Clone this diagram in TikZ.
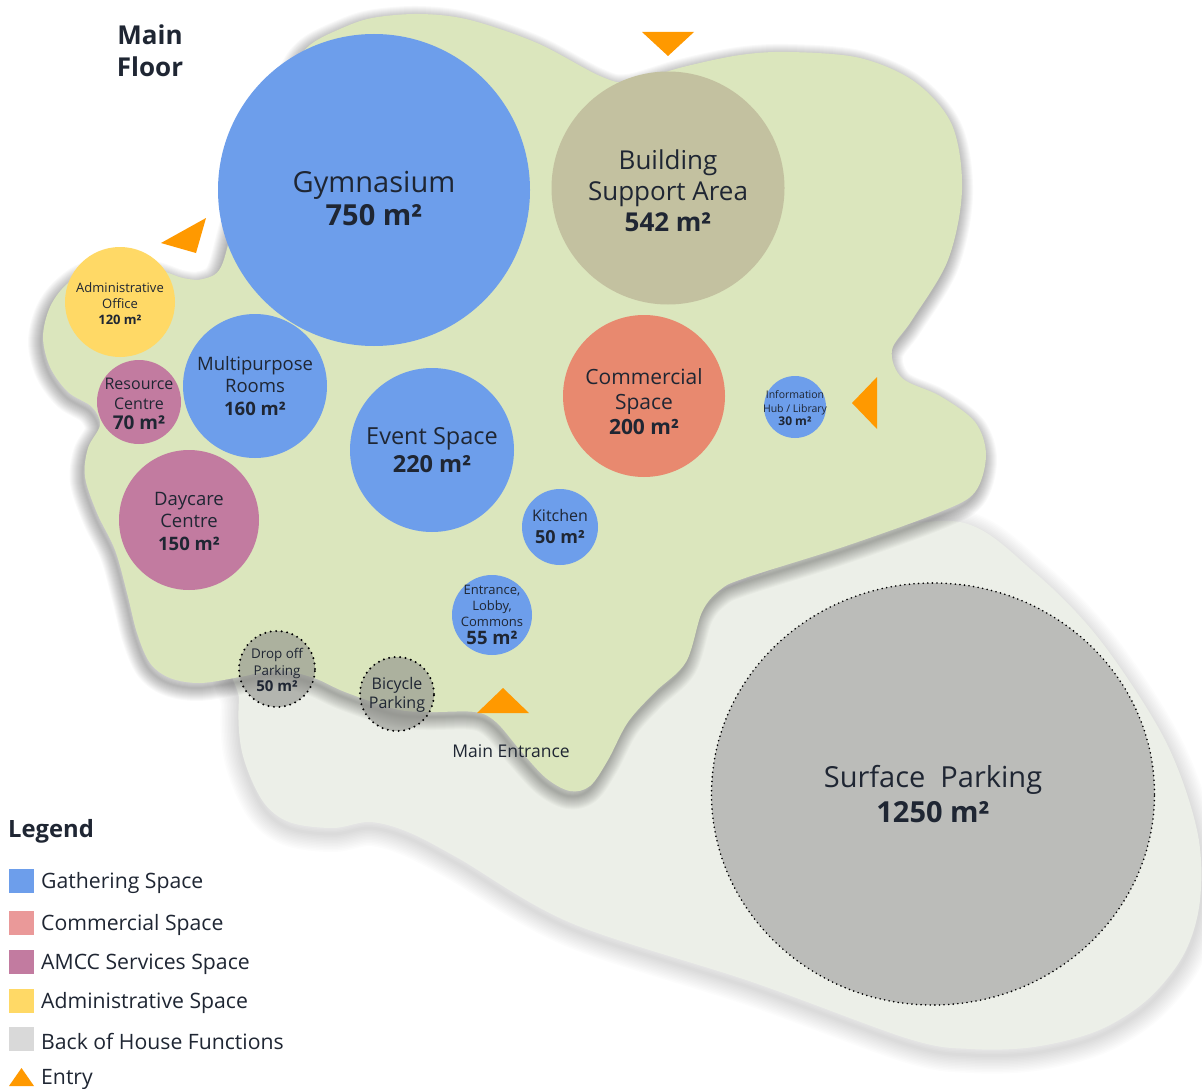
\documentclass[tikz,border=0pt]{standalone}
\usepackage{fontspec}
\setmainfont{Open Sans}
\usetikzlibrary{shapes.geometric}
\definecolor{gather}{HTML}{6D9EEB}
\definecolor{commerc}{HTML}{E8896F}
\definecolor{commleg}{HTML}{EA9999}
\definecolor{amcc}{HTML}{C27BA0}
\definecolor{admin}{HTML}{FFD966}
\definecolor{boh}{HTML}{D9D9D9}
\definecolor{support}{HTML}{C3C1A0}
\definecolor{entry}{HTML}{FF9900}
\definecolor{blobgreen}{HTML}{DBE6BD}
\definecolor{blobgrey}{HTML}{ECEFE8}
\definecolor{ink}{HTML}{1F2633}
\definecolor{parkgrey}{HTML}{BBBCB9}
\definecolor{dotgrey}{HTML}{8E8F8A}
\newcommand\setfs[2]{\fontsize{#1}{#2}\selectfont}
\def\greenpath{plot[smooth cycle, tension=0.55] coordinates {(221,267) (236,215) (262,140) (292,70) (310,45) (340,29) (372,18) (420,14) (470,20) (537,43) (600,76) (630,82) (683,67) (740,55) (790,52) (860,58) (915,82) (952,125) (962,190) (948,260) (912,320) (892,350) (902,378) (940,396) (975,422) (986,455) (975,492) (940,512) (846,546) (745,578) (720,590) (702,612) (686,662) (655,692) (628,722) (608,760) (590,786) (570,791) (546,778) (520,750) (496,722) (475,712) (428,712) (395,709) (345,692) (314,678) (278,670) (240,677) (200,683) (170,678) (150,663) (137,633) (127,593) (115,550) (97,513) (85,477) (88,448) (100,425) (92,407) (68,392) (50,367) (43,337) (50,307) (67,284) (95,268) (150,268) (183,278) (203,279)}}
\def\greypath{plot[smooth cycle, tension=0.55] coordinates {(250,650) (239,700) (242,752) (262,800) (289,822) (333,828) (370,822) (408,832) (458,858) (571,923) (752,982) (909,1039) (971,1049) (1034,1047) (1097,1031) (1147,1000) (1184,954) (1200,900) (1197,830) (1165,740) (1100,640) (1034,572) (960,522) (850,540) (700,600) (500,680)}}
\begin{document}
\begin{tikzpicture}[x=1pt,y=-1pt,
  room/.style={circle, inner sep=0pt},
  rtext/.style={align=center, text=ink, inner sep=0pt},
  park/.style={room, fill=dotgrey, fill opacity=0.6, draw=black, draw opacity=1, line width=2.2pt, dash pattern=on 0pt off 5.5pt, line cap=round},
  lbl/.style={text=ink, inner sep=0pt},
  legsq/.style={minimum width=25pt, minimum height=24pt, inner sep=0pt},
  legtx/.style={lbl, anchor=west, font=\setfs{21.2}{25}}]
\useasboundingbox (0,0) rectangle (1202,1089);
\fill[white] (0,0) rectangle (1202,1089);
% grey blob with soft shadow
\foreach \w in {3,6,...,36} {\draw[line width=\w pt, black, opacity=0.013, line join=round, yshift=-6pt] \greypath;}
\fill[blobgrey] \greypath;
% green blob with soft shadow
\foreach \w in {2,4,...,26} {\draw[line width=\w pt, black, opacity=0.022, line join=round, yshift=-5pt, xshift=-2pt] \greenpath;}
\fill[blobgreen] \greenpath;
% rooms
\node[room, fill=gather, minimum size=312pt] (gym) at (374,190) {};
\node[rtext, font=\setfs{29}{33}] (gymt) at ([yshift=-8pt]gym.center) {Gymnasium\\\textbf{750 m²}};
\node[room, fill=support, minimum size=233pt] (bsa) at (668,188) {};
\node[rtext, font=\setfs{26}{31}] (bsat) at ([yshift=-2.5pt]bsa.center) {Building\\Support Area\\\textbf{542 m²}};
\node[room, fill=admin, minimum size=110pt] (adm) at (120,302) {};
\node[rtext, font=\setfs{13}{16}] (admt) at ([yshift=-2pt]adm.center) {Administrative\\Office\\\textbf{120 m²}};
\node[room, fill=amcc, minimum size=84pt] (res) at (139,402) {};
\node[rtext, font=\setfs{16}{20}] (rest) at ([yshift=-2pt]res.center) {Resource\\Centre\\{\setfs{19}{20}\bfseries 70 m²}};
\node[room, fill=gather, minimum size=144pt] (mpr) at (255,386) {};
\node[rtext, font=\setfs{18.5}{22.5}] (mprt) at (mpr.center) {Multipurpose\\Rooms\\\textbf{160 m²}};
\node[room, fill=gather, minimum size=164pt] (evt) at (432,450) {};
\node[rtext, font=\setfs{23.5}{28}] (evtt) at (evt.center) {Event Space\\\textbf{220 m²}};
\node[room, fill=amcc, minimum size=140pt] (day) at (189,520) {};
\node[rtext, font=\setfs{18.5}{22.5}] (dayt) at ([yshift=-1pt]day.center) {Daycare\\Centre\\\textbf{150 m²}};
\node[room, fill=commerc, minimum size=162pt] (com) at (644,396) {};
\node[rtext, font=\setfs{21}{25}] (comt) at ([yshift=-6pt]com.center) {Commercial\\Space\\\textbf{200 m²}};
\node[room, fill=gather, minimum size=62pt] (info) at (795,407) {};
\node[rtext, font=\setfs{10.5}{13.5}] (infot) at ([yshift=-1.5pt]info.center) {Information\\Hub / Library\\{\setfs{12}{13}\bfseries 30 m²}};
\node[room, fill=gather, minimum size=76pt] (kit) at (560,527) {};
\node[rtext, font=\setfs{16}{22}] (kitt) at (kit.center) {Kitchen\\{\setfs{18}{20}\bfseries 50 m²}};
\node[room, fill=gather, minimum size=80pt] (lob) at (492,615) {};
\node[rtext, font=\setfs{13}{16}] (lobt) at ([yshift=0.5pt]lob.center) {Entrance,\\Lobby,\\Commons\\[2pt]{\setfs{18.5}{19}\bfseries 55 m²}};
\node[park, minimum size=76pt] (drop) at (277,669) {};
\node[rtext, font=\setfs{13.4}{16.5}] (dropt) at ([yshift=-1pt]drop.center) {Drop off\\Parking\\{\setfs{15}{16}\bfseries 50 m²}};
\node[park, minimum size=74pt] (bike) at (397,694) {};
\node[rtext, font=\setfs{16}{19}] (biket) at ([yshift=-1pt]bike.center) {Bicycle\\Parking};
\node[ellipse, inner sep=0pt, fill=parkgrey, draw=black, line width=1.8pt, dash pattern=on 0pt off 4.6pt, line cap=round, minimum width=443pt, minimum height=422pt] (surf) at (933,794) {};
\node[rtext, font=\setfs{29}{35}] (surft) at (surf.center) {Surface\ \ Parking\\\textbf{1250 m²}};
% entries
\fill[entry] (642,32) -- (694,32) -- (668,56) -- cycle;
\fill[entry] (161,243) -- (206,218) -- (196,253) -- cycle;
\fill[entry] (852,403) -- (877,377) -- (877,429) -- cycle;
\fill[entry] (477,713) -- (529,713) -- (503,688) -- cycle;
\node[lbl, font=\setfs{17.5}{20}] (mainent) at (511,751) {Main Entrance};
% title
\node[lbl, align=center, font=\setfs{26}{32}\bfseries] (title) at (150,51) {Main\\Floor};
% legend
\node[lbl, anchor=west, font=\setfs{23.8}{26}\bfseries] (legend) at (8,831) {Legend};
\node[legsq, fill=gather] (lg1) at (21,881) {};
\node[legtx] (lt1) at (41,883) {Gathering Space};
\node[legsq, fill=commleg] (lg2) at (21,923) {};
\node[legtx] (lt2) at (41,925) {Commercial Space};
\node[legsq, fill=amcc] (lg3) at (21,962) {};
\node[legtx] (lt3) at (41,964) {AMCC Services Space};
\node[legsq, fill=admin] (lg4) at (21,1001) {};
\node[legtx] (lt4) at (41,1003) {Administrative Space};
\node[legsq, fill=boh] (lg5) at (21,1039) {};
\node[legtx] (lt5) at (41,1041) {Back of House Functions};
\fill[entry] (9,1086) -- (34,1086) -- (21.5,1068) -- cycle;
\node[legtx] (lt6) at (41,1079) {Entry};
\end{tikzpicture}
\end{document}
